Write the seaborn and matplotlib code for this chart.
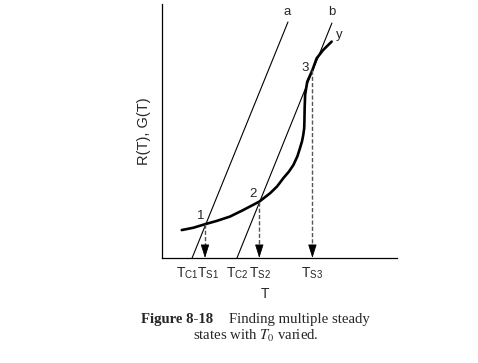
import numpy as np
import pandas as pd
import seaborn as sns
import matplotlib.pyplot as plt
from matplotlib.transforms import ScaledTranslation

sns.set_theme(style="white")
plt.rcParams['font.family'] = ['Liberation Sans', 'DejaVu Sans']
plt.rcParams['mathtext.fontset'] = 'stix'

# G(T) curve
curve_T = [0.84, 1.33, 1.83, 2.33, 2.89, 3.46, 4.14, 4.60, 4.90, 5.16, 5.40, 5.59,
           5.76, 5.87, 5.96, 6.01, 6.05, 6.06, 6.07, 6.09, 6.18, 6.40, 6.58, 6.86, 7.22]
curve_G = [1.10, 1.19, 1.33, 1.46, 1.63, 1.89, 2.22, 2.55, 2.82, 3.14, 3.40, 3.66,
           4.00, 4.32, 4.60, 4.84, 5.10, 5.37, 5.89, 6.42, 6.94, 7.40, 7.86, 8.19, 8.52]

# R(T) lines a and b (start at T_C, end at top)
line_a_T = [1.28, 5.36]
line_a_R = [0.0, 9.29]
line_b_T = [3.19, 7.23]
line_b_R = [0.0, 9.25]

# steady states
ss_T = [1.83, 4.14, 6.40]
ss_G = [1.33, 2.22, 7.40]
ss_names = ["1", "2", "3"]

tick_pos = [1.28, 1.83, 3.19, 4.14, 6.40]
tick_labels = [r"T$_\mathregular{C1}$", r"T$_\mathregular{S1}$", r"T$_\mathregular{C2}$",
               r"T$_\mathregular{S2}$", r"T$_\mathregular{S3}$"]

fig = plt.figure(figsize=(4.78, 3.63), dpi=100)
ax = fig.add_axes([162/478, 105/363, 235/478, 254/363])

curve = pd.DataFrame({"T": curve_T, "G": curve_G})
sns.lineplot(data=curve, x="T", y="G", sort=False, estimator=None,
             color="black", lw=1.9, ax=ax)
sns.lineplot(x=line_a_T, y=line_a_R, color="black", lw=0.8, ax=ax)
sns.lineplot(x=line_b_T, y=line_b_R, color="black", lw=0.8, ax=ax)

# dashed drops with arrowheads
for t, g in zip(ss_T, ss_G):
    ax.plot([t, t], [g, 0.3], color="#555555", lw=1.0, ls=(0, (3, 1.5)))
    ax.annotate("", xy=(t, 0), xytext=(t, 0.35),
                arrowprops=dict(arrowstyle="-|>,head_length=0.7,head_width=0.22",
                                color="black", lw=0.6, shrinkA=0, shrinkB=0))

# point labels
label_off = [(-0.17, 0.32), (-0.27, 0.30), (-0.31, 0.08)]
for t, g, name, (dx, dy) in zip(ss_T, ss_G, ss_names, label_off):
    ax.text(t + dx, g + dy, name, fontsize=9.5, ha="center", va="center")

ax.text(line_a_T[1] - 0.04, 9.69, "a", fontsize=9.5, ha="center", va="center")
ax.text(line_b_T[1], 9.69, "b", fontsize=9.5, ha="center", va="center")
ax.text(curve_T[-1] + 0.31, 8.78, "y", fontsize=9.5, ha="center", va="center")

ax.set_xlim(0, 10)
ax.set_ylim(0, 10)
ax.set_xticks(tick_pos)
ax.set_xticklabels(tick_labels, fontsize=10)
ax.set_yticks([])
ax.tick_params(axis="x", length=0, pad=5)
shifts = [-5, 3, 0, 1, 0]
for lab, s in zip(ax.get_xticklabels(), shifts):
    lab.set_transform(lab.get_transform() + ScaledTranslation(s/100, 0, fig.dpi_scale_trans))

ax.set_xlabel("T", fontsize=10)
ax.xaxis.set_label_coords(0.44, -0.115)
ax.set_ylabel("R(T), G(T)", fontsize=10.5, labelpad=8)

sns.despine(ax=ax)
for s in ["left", "bottom"]:
    ax.spines[s].set_color("black")
    ax.spines[s].set_linewidth(0.9)

# caption
fig.text(141/478, 1 - 320/363, "Figure 8-18", fontsize=10.6, fontweight="bold",
         family="Liberation Serif", ha="left", va="center")
fig.text(370/478, 1 - 320/363, "Finding multiple steady", fontsize=10.6,
         family="Liberation Serif", ha="right", va="center")
fig.text(256/478, 1 - 336/363, r"states with $T_0$ varied.", fontsize=10.6,
         family="Liberation Serif", ha="center", va="center")

fig.savefig("out.png", dpi=100)
